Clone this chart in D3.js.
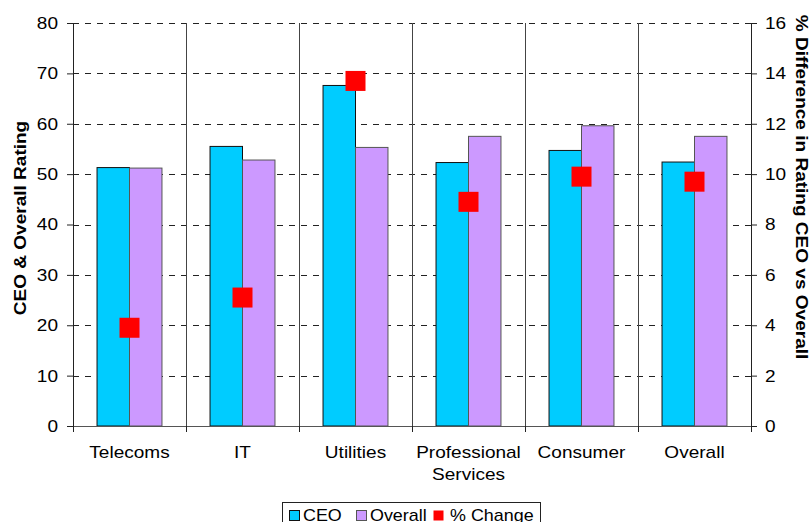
<!DOCTYPE html>
<html>
<head>
<meta charset="utf-8">
<script src="https://cdn.jsdelivr.net/npm/d3@7"></script>
<style>
  body { margin: 0; background: #fff; }
  svg { display: block; font-family: "Liberation Sans", Arial, sans-serif; }
</style>
</head>
<body>
<div id="chart"></div>
<script>
const categories = ['Telecoms', 'IT', 'Utilities', 'Professional Services', 'Consumer', 'Overall'];
const ceo = [51.3, 55.5, 67.6, 52.3, 54.7, 52.4];
const overall = [51.2, 52.8, 55.3, 57.5, 59.6, 57.5];
const pctChange = [3.9, 5.1, 13.7, 8.9, 9.9, 9.7];
const leftTicks = [0, 10, 20, 30, 40, 50, 60, 70, 80];
const rightTicks = [0, 2, 4, 6, 8, 10, 12, 14, 16];

const width = 812, height = 522;
const m = {left: 73, right: 61, top: 23, bottom: 96};
const fs = '17px';
const sx = 1.12; // the original text is a bit wider than Liberation Sans

const svg = d3.select('#chart').append('svg')
  .attr('width', width)
  .attr('height', height);

// place a text at (px, py) and stretch it horizontally
function stretch(sel, px, py, rot) {
  sel.attr('transform', `translate(${px},${py})${rot ? ` rotate(${rot})` : ''} scale(${sx},1)`);
}

const x = d3.scaleBand()
  .domain(categories)
  .range([m.left, width - m.right]);
const xInner = d3.scaleBand()
  .domain(['ceo', 'overall'])
  .range([0, x.bandwidth()])
  .paddingOuter(0.74);
const y = d3.scaleLinear().domain([0, 80]).range([height - m.bottom, m.top]);
const y2 = d3.scaleLinear().domain([0, 16]).range([height - m.bottom, m.top]);

// horizontal dashed gridlines
svg.append('g')
  .selectAll('line')
  .data(leftTicks.filter(d => d > 0))
  .join('line')
  .attr('x1', m.left).attr('x2', width - m.right)
  .attr('y1', d => Math.round(y(d)) + 0.5).attr('y2', d => Math.round(y(d)) + 0.5)
  .attr('stroke', '#222')
  .attr('stroke-dasharray', '6,6');

// vertical category separators
const bounds = categories.map(c => x(c)).concat([width - m.right]);
svg.append('g')
  .selectAll('line')
  .data(bounds.slice(1, -1))
  .join('line')
  .attr('x1', d => Math.round(d) + 0.5).attr('x2', d => Math.round(d) + 0.5)
  .attr('y1', m.top).attr('y2', height - m.bottom)
  .attr('stroke', '#444');

// bars
const groups = svg.append('g')
  .selectAll('g')
  .data(categories)
  .join('g')
  .attr('transform', d => `translate(${x(d)},0)`);

groups.append('rect')
  .attr('x', xInner('ceo'))
  .attr('width', xInner.bandwidth())
  .attr('y', (d, i) => y(ceo[i]))
  .attr('height', (d, i) => y(0) - y(ceo[i]))
  .attr('fill', '#00ccff')
  .attr('stroke', '#111');

groups.append('rect')
  .attr('x', xInner('overall'))
  .attr('width', xInner.bandwidth())
  .attr('y', (d, i) => y(overall[i]))
  .attr('height', (d, i) => y(0) - y(overall[i]))
  .attr('fill', '#cc99ff')
  .attr('stroke', '#555');

// % change markers
const ms = 20;
svg.append('g')
  .selectAll('rect')
  .data(categories)
  .join('rect')
  .attr('x', d => x(d) + x.bandwidth() / 2 - ms / 2)
  .attr('y', (d, i) => y2(pctChange[i]) - ms / 2)
  .attr('width', ms).attr('height', ms)
  .attr('fill', '#ff0000');

// axes
const leftAxis = svg.append('g')
  .attr('transform', `translate(${m.left},0)`)
  .call(d3.axisLeft(y).tickValues(leftTicks).tickSize(6).tickPadding(9));
const rightAxis = svg.append('g')
  .attr('transform', `translate(${width - m.right},0)`)
  .call(d3.axisRight(y2).tickValues(rightTicks).tickSize(6).tickPadding(8));
[leftAxis, rightAxis].forEach(a => {
  a.select('.domain').attr('stroke', '#222');
  a.selectAll('.tick line').attr('stroke', '#222');
  a.selectAll('.tick text').each(function() {
    const t = d3.select(this);
    const tx = +t.attr('x');
    t.attr('x', 0)
      .attr('font-size', fs).attr('fill', '#000')
      .attr('font-family', '"Liberation Sans", Arial, sans-serif');
    stretch(t, tx, 0);
  });
});

// x axis baseline and ticks at category boundaries
svg.append('line')
  .attr('x1', m.left).attr('x2', width - m.right)
  .attr('y1', y(0) + 0.5).attr('y2', y(0) + 0.5)
  .attr('stroke', '#555');
svg.append('g')
  .selectAll('line')
  .data(bounds)
  .join('line')
  .attr('x1', d => Math.round(d) + 0.5).attr('x2', d => Math.round(d) + 0.5)
  .attr('y1', y(0)).attr('y2', y(0) + 6)
  .attr('stroke', '#222');

// category labels
svg.append('g')
  .selectAll('text')
  .data(categories)
  .join('text')
  .attr('text-anchor', 'middle')
  .attr('font-size', fs)
  .each(function(d) {
    const t = d3.select(this);
    stretch(t, x(d) + x.bandwidth() / 2, 458);
    const words = d === 'Professional Services' ? ['Professional', 'Services'] : [d];
    t.selectAll('tspan')
      .data(words)
      .join('tspan')
      .attr('x', 0)
      .attr('dy', (w, i) => i === 0 ? 0 : 22)
      .text(w => w);
  });

// axis titles
const leftTitle = svg.append('text')
  .attr('text-anchor', 'middle')
  .attr('font-size', fs)
  .attr('font-weight', 'bold')
  .text('CEO & Overall Rating');
stretch(leftTitle, 26, 218, -90);
const rightTitle = svg.append('text')
  .attr('text-anchor', 'middle')
  .attr('font-size', fs)
  .attr('font-weight', 'bold')
  .text('% Difference in Rating CEO vs Overall');
stretch(rightTitle, 796, 187, 90);

// legend
const legendItems = [
  {name: 'CEO', fill: '#00ccff', stroke: '#111', x: 289},
  {name: 'Overall', fill: '#cc99ff', stroke: '#555', x: 356},
  {name: '% Change', fill: '#ff0000', stroke: 'none', x: 433}
];
const legend = svg.append('g');
legend.append('rect')
  .attr('x', 282.5).attr('y', 502.5)
  .attr('width', 258).attr('height', 30)
  .attr('fill', '#fff').attr('stroke', '#222');
const li = legend.selectAll('g')
  .data(legendItems)
  .join('g')
  .attr('transform', d => `translate(${d.x},0)`);
li.append('rect')
  .attr('x', 0.5).attr('y', 510.5)
  .attr('width', 10).attr('height', 10)
  .attr('fill', d => d.fill)
  .attr('stroke', d => d.stroke);
li.append('text')
  .attr('font-size', '16px')
  .text(d => d.name)
  .each(function(d) {
    stretch(d3.select(this), d.name === '% Change' ? 17 : 14, 521);
  });
</script>
</body>
</html>
